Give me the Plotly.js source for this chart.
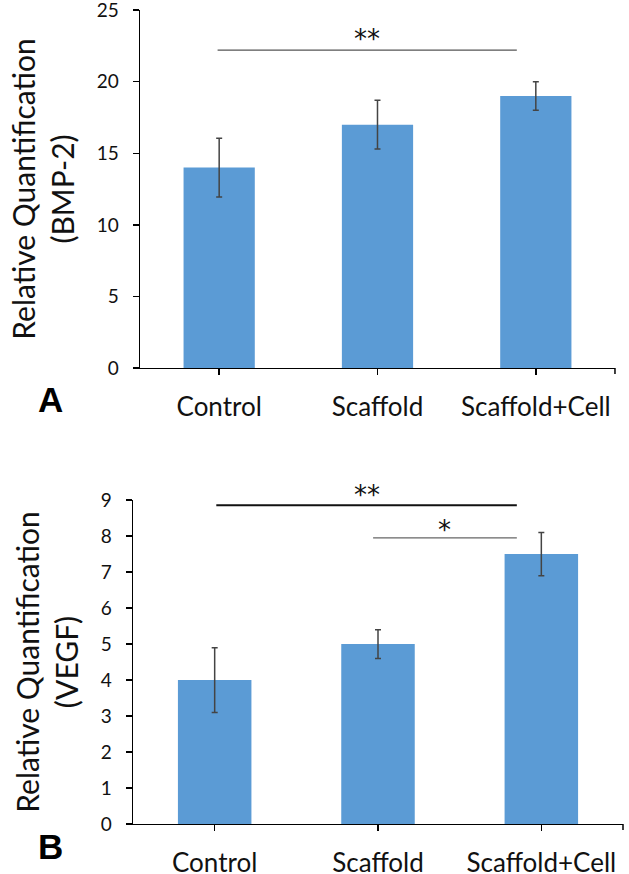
<!DOCTYPE html>
<html>
<head>
<meta charset="utf-8">
<script src="https://cdn.plot.ly/plotly-3.0.1.min.js"></script>
<style>
  html, body { margin: 0; padding: 0; background: #fff; }
  #chart { width: 629px; height: 874px; }
</style>
</head>
<body>
<div id="chart"></div>
<script>
// --- data ---
const groups = ['Control', 'Scaffold', 'Scaffold+Cell'];

const bmpMean = [14, 17, 19];
const bmpErr = [2.05, 1.7, 1.0];

const vegfMean = [4, 5, 7.5];
const vegfErr = [0.9, 0.4, 0.6];

// significance brackets: [from, to, y, label]
const bmpSig = [[-0.01, 1.88, 22.2, '**']];
const vegfSig = [[0.01, 1.85, 8.86, '**'], [0.97, 1.85, 7.95, '*']];

const barColor = '#5B9BD5';
const font = 'Lato, "Open Sans", sans-serif';

function barTrace(y, err, xa, ya) {
  return {
    type: 'bar', x: groups, y: y, xaxis: xa, yaxis: ya,
    marker: { color: barColor },
    error_y: { type: 'data', array: err, visible: true, color: '#444', thickness: 1.5, width: 3 },
    hoverinfo: 'skip'
  };
}

let traces = [
  barTrace(bmpMean, bmpErr, 'x', 'y'),
  barTrace(vegfMean, vegfErr, 'x2', 'y2')
];

function xAxis(domain, anchor) {
  return {
    domain: domain, anchor: anchor, type: 'category', range: [-0.5, 2.5],
    showline: true, linecolor: '#000', linewidth: 1.5,
    ticks: 'outside', ticklen: 6, tickcolor: '#000', tickwidth: 1.5,
    ticklabelstandoff: 9,
    tickfont: { family: font, size: 26, color: '#111' },
    showgrid: false, zeroline: false, fixedrange: true
  };
}
function yAxis(domain, anchor, max, dtick, name) {
  let vals = [];
  for (let v = 0; v <= max; v += dtick) vals.push(v);
  return {
    domain: domain, anchor: anchor, range: [0, max * 1.0004], tickvals: vals,
    showline: true, linecolor: '#000', linewidth: 1.5,
    ticks: 'outside', ticklen: 6, tickcolor: '#000', tickwidth: 1.5,
    ticklabelstandoff: 10, ticklabeloverflow: 'allow',
    tickfont: { family: font, size: 19, color: '#111' },
    showgrid: false, zeroline: false, fixedrange: true,
    title: { text: 'Relative Quantification<br>(' + name + ')', font: { family: font, size: 30, color: '#111' }, standoff: 13 }
  };
}

let shapes = [];
let annotations = [];
function addSig(list, xr, yr, color, widths, shifts) {
  list.forEach((s, i) => {
    shapes.push({ type: 'line', xref: xr, yref: yr, x0: s[0], x1: s[1], y0: s[2], y1: s[2],
      line: { color: color[i], width: widths[i] } });
    annotations.push({ xref: xr, yref: yr, x: (s[0] + s[1]) / 2, y: s[2], text: s[3],
      showarrow: false, yanchor: 'bottom', yshift: shifts[i],
      font: { family: '"DejaVu Sans", sans-serif', size: 26, color: '#111' } });
  });
}
addSig(bmpSig, 'x', 'y', ['#555'], [1.2], [-6]);
addSig(vegfSig, 'x2', 'y2', ['#111', '#666'], [2, 1.3], [-7, -9]);

// end tick at right edge of each x axis
shapes.push({ type: 'line', xref: 'x domain', yref: 'paper', x0: 1, x1: 1, y0: 0.57895, y1: 0.57895 - 6 / 874, line: { color: '#000', width: 1.5 } });
shapes.push({ type: 'line', xref: 'x2 domain', yref: 'paper', x0: 1, x1: 1, y0: 0.05721, y1: 0.05721 - 6 / 874, line: { color: '#000', width: 1.5 } });

// panel letters
annotations.push({ xref: 'paper', yref: 'paper', x: 50 / 629, y: 1 - 399 / 874, text: '<b>A</b>', showarrow: false,
  xanchor: 'center', yanchor: 'middle',
  font: { family: '"Liberation Sans", Arial, sans-serif', size: 35, color: '#000' } });
annotations.push({ xref: 'paper', yref: 'paper', x: 50 / 629, y: 1 - 846 / 874, text: '<b>B</b>', showarrow: false,
  xanchor: 'center', yanchor: 'middle',
  font: { family: '"Liberation Sans", Arial, sans-serif', size: 35, color: '#000' } });

let layout = {
  width: 629, height: 874,
  margin: { l: 0, r: 0, t: 0, b: 0 },
  paper_bgcolor: '#fff', plot_bgcolor: '#fff',
  showlegend: false,
  bargap: 0.55,
  xaxis: xAxis([0.2226, 0.9777], 'y'),
  yaxis: yAxis([0.57895, 0.98856], 'x', 25, 5, 'BMP-2'),
  xaxis2: xAxis([0.21145, 0.99046], 'y2'),
  yaxis2: yAxis([0.05721, 0.42792], 'x2', 9, 1, 'VEGF'),
  shapes: shapes,
  annotations: annotations
};

Plotly.newPlot('chart', traces, layout, { displayModeBar: false, staticPlot: true });
</script>
</body>
</html>
